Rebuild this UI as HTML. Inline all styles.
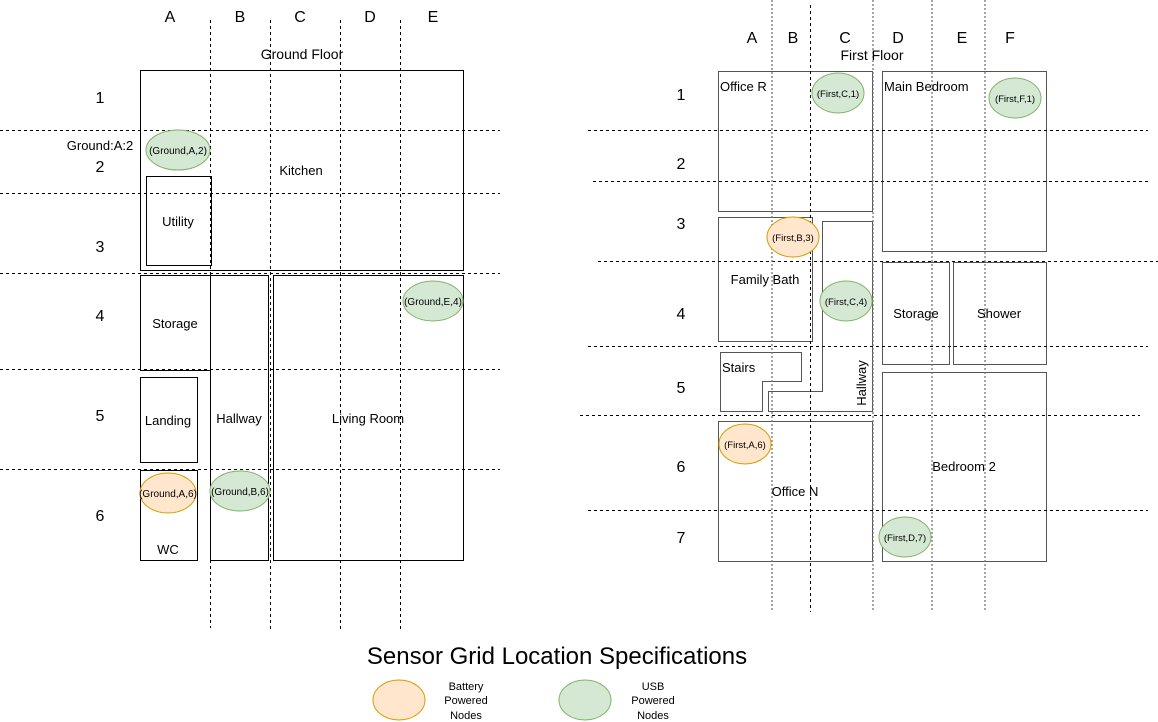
<!DOCTYPE html>
<html><head><meta charset="utf-8"><style>
html,body{margin:0;padding:0;background:#fff}
svg{display:block;font-family:"Liberation Sans",Arial,sans-serif}
</style></head><body>
<svg width="1158" height="722" viewBox="0 0 1158 722" xmlns="http://www.w3.org/2000/svg">
<g fill="none" stroke="#000" stroke-width="1">
<!-- ground rooms -->
<rect x="140.5" y="70.5" width="323" height="200"/>
<rect x="146.5" y="176.5" width="65" height="89"/>
<rect x="140.5" y="275.5" width="70" height="95"/>
<rect x="210.5" y="275.5" width="58" height="285"/>
<rect x="273.5" y="275.5" width="190" height="285"/>
<rect x="140.5" y="377.5" width="57" height="85"/>
<rect x="140.5" y="470.5" width="57" height="90"/>
</g>
<g fill="none" stroke="#000" stroke-dasharray="3,3">
<line x1="210.5" y1="20" x2="210.5" y2="628"/>
<line x1="270.5" y1="20" x2="270.5" y2="632"/>
<line x1="340.5" y1="20" x2="340.5" y2="632"/>
<line x1="400.5" y1="20" x2="400.5" y2="632"/>
<line x1="0" y1="130.5" x2="500" y2="130.5"/>
<line x1="0" y1="193.5" x2="500" y2="193.5"/>
<line x1="0" y1="273.5" x2="500" y2="273.5"/>
<line x1="0" y1="369.5" x2="500" y2="369.5"/>
<line x1="0" y1="469.5" x2="500" y2="469.5"/>
</g>
<g font-size="16" text-anchor="middle" fill="#000">
<text x="170" y="22">A</text><text x="240" y="22">B</text><text x="300" y="22">C</text><text x="370" y="22">D</text><text x="433" y="22">E</text>
<text x="100" y="103">1</text><text x="100" y="172">2</text><text x="100" y="252">3</text><text x="100" y="321">4</text><text x="100" y="421">5</text><text x="100" y="521">6</text>
</g>
<g font-size="13" text-anchor="middle" fill="#000">
<text x="302" y="59" font-size="14">Ground Floor</text>
<text x="100" y="150">Ground:A:2</text>
<text x="301" y="175">Kitchen</text>
<text x="178" y="226">Utility</text>
<text x="175" y="328">Storage</text>
<text x="239" y="423">Hallway</text>
<text x="368" y="423">Living Room</text>
<text x="168" y="425">Landing</text>
<text x="168" y="554">WC</text>
</g>
<g font-size="10" text-anchor="middle">
<ellipse cx="178" cy="150" rx="32" ry="20" fill="#d5e8d4" stroke="#82b366"/><text x="178" y="154">(Ground,A,2)</text>
<ellipse cx="433" cy="301" rx="30" ry="20" fill="#d5e8d4" stroke="#82b366"/><text x="433" y="305">(Ground,E,4)</text>
<ellipse cx="168" cy="493" rx="28" ry="20" fill="#ffe6cc" stroke="#d79b00"/><text x="168" y="497">(Ground,A,6)</text>
<ellipse cx="240" cy="491" rx="30" ry="20" fill="#d5e8d4" stroke="#82b366"/><text x="240" y="495">(Ground,B,6)</text>
</g>

<!-- first floor -->
<g fill="none" stroke="#555" stroke-width="1">
<rect x="718.5" y="71.5" width="154" height="140"/>
<rect x="882.5" y="71.5" width="164" height="180"/>
<rect x="718.5" y="217.5" width="94" height="124"/>
<polygon points="822.5,221.5 872.5,221.5 872.5,411.5 768.5,411.5 768.5,391.5 822.5,391.5"/>
<polygon points="720.5,352.5 801.5,352.5 801.5,381.5 762.5,381.5 762.5,411.5 720.5,411.5"/>
<rect x="882.5" y="262.5" width="67" height="102"/>
<rect x="953.5" y="262.5" width="93" height="102"/>
<rect x="718.5" y="421.5" width="154" height="140"/>
<rect x="882.5" y="372.5" width="164" height="189"/>
</g>
<g fill="none" stroke="#000" stroke-dasharray="3,3">
<line x1="810.5" y1="5" x2="810.5" y2="612"/>
<line x1="588" y1="130.5" x2="1148" y2="130.5"/>
<line x1="593" y1="181.5" x2="1150" y2="181.5"/>
<line x1="598" y1="261.5" x2="1158" y2="261.5"/>
<line x1="588" y1="346.5" x2="1148" y2="346.5"/>
<line x1="580" y1="415.5" x2="1140" y2="415.5"/>
<line x1="588" y1="510.5" x2="1148" y2="510.5"/>
</g>
<g fill="none" stroke="#777" stroke-dasharray="2,2" stroke-width="1.3">
<line x1="772" y1="0" x2="772" y2="610"/>
<line x1="873" y1="0" x2="873" y2="610"/>
<line x1="932" y1="0" x2="932" y2="610"/>
<line x1="985" y1="0" x2="985" y2="610"/>
</g>
<g font-size="16" text-anchor="middle" fill="#000">
<text x="752" y="43">A</text><text x="793" y="43">B</text><text x="845" y="43">C</text><text x="898" y="43">D</text><text x="962" y="43">E</text><text x="1010" y="43">F</text>
<text x="681" y="100">1</text><text x="681" y="169">2</text><text x="681" y="229">3</text><text x="681" y="319">4</text><text x="681" y="393">5</text><text x="681" y="472">6</text><text x="681" y="543">7</text>
</g>
<g font-size="13" fill="#000">
<text x="872" y="60" text-anchor="middle" font-size="14">First Floor</text>
<text x="720" y="91">Office R</text>
<text x="884" y="91">Main Bedroom</text>
<text x="765" y="284" text-anchor="middle">Family Bath</text>
<text x="722" y="372">Stairs</text>
<text x="916" y="318" text-anchor="middle">Storage</text>
<text x="999" y="318" text-anchor="middle">Shower</text>
<text x="795" y="496" text-anchor="middle">Office N</text>
<text x="964" y="471" text-anchor="middle">Bedroom 2</text>
<text transform="translate(866,383) rotate(-90)" text-anchor="middle">Hallway</text>
</g>
<g font-size="9.5" text-anchor="middle">
<ellipse cx="838" cy="93" rx="26" ry="20" fill="#d5e8d4" stroke="#82b366"/><text x="838" y="97">(First,C,1)</text>
<ellipse cx="1015" cy="98" rx="26" ry="20" fill="#d5e8d4" stroke="#82b366"/><text x="1015" y="102">(First,F,1)</text>
<ellipse cx="793" cy="237" rx="26" ry="20" fill="#ffe6cc" stroke="#d79b00"/><text x="793" y="241">(First,B,3)</text>
<ellipse cx="846" cy="301" rx="26" ry="20" fill="#d5e8d4" stroke="#82b366"/><text x="846" y="305">(First,C,4)</text>
<ellipse cx="745" cy="444" rx="26" ry="20" fill="#ffe6cc" stroke="#d79b00"/><text x="745" y="448">(First,A,6)</text>
<ellipse cx="905" cy="537" rx="26" ry="20" fill="#d5e8d4" stroke="#82b366"/><text x="905" y="541">(First,D,7)</text>
</g>

<!-- legend -->
<text x="557" y="664" font-size="24" text-anchor="middle">Sensor Grid Location Specifications</text>
<ellipse cx="399" cy="700" rx="26" ry="20" fill="#ffe6cc" stroke="#d79b00"/>
<ellipse cx="585" cy="700" rx="26" ry="20" fill="#d5e8d4" stroke="#82b366"/>
<g font-size="11" text-anchor="middle">
<text x="466" y="690">Battery</text><text x="466" y="704">Powered</text><text x="466" y="719">Nodes</text>
<text x="653" y="690">USB</text><text x="653" y="704">Powered</text><text x="653" y="719">Nodes</text>
</g>
</svg>
</body></html>
